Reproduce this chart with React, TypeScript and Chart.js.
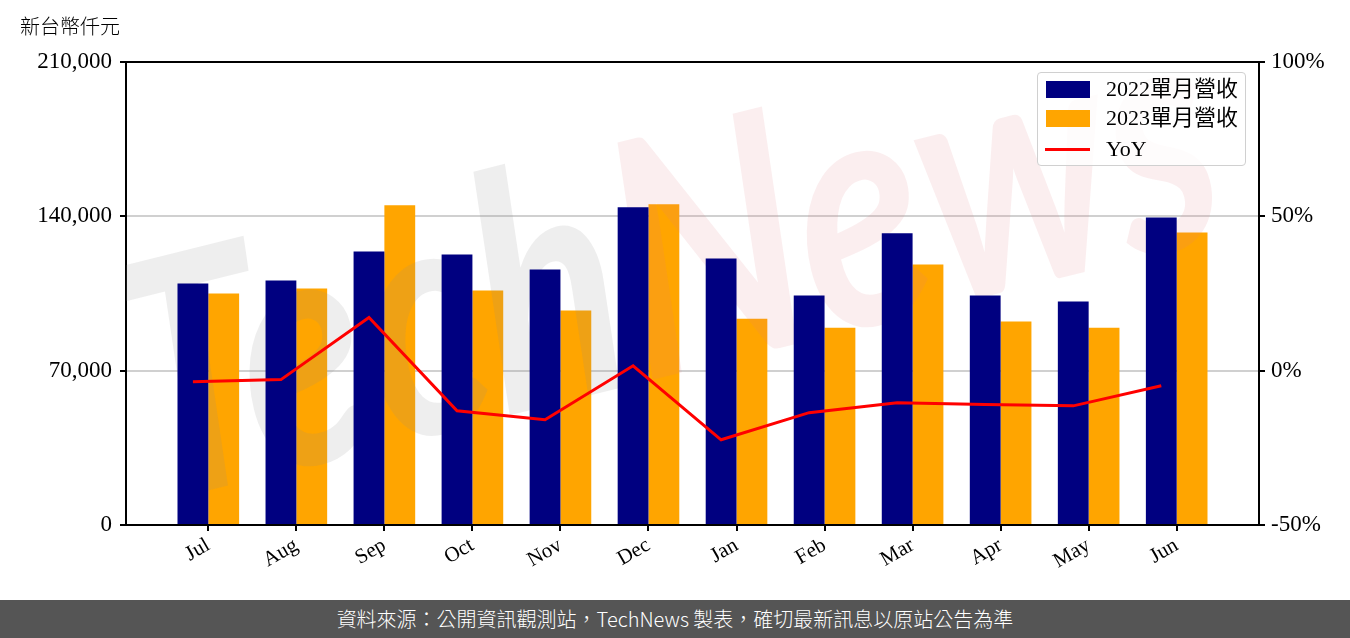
import React, { useEffect, useRef } from "react";
import { Chart, registerables } from "chart.js";

Chart.register(...registerables);

const months = ["Jul", "Aug", "Sep", "Oct", "Nov", "Dec", "Jan", "Feb", "Mar", "Apr", "May", "Jun"];
const revenue2022 = [109500, 110900, 124100, 122700, 115900, 144100, 120900, 104100, 132300, 104100, 101400, 139500];
const revenue2023 = [105000, 107300, 145000, 106400, 97300, 145500, 93600, 89500, 118200, 92300, 89500, 132700];
const yoy = [-3.6, -2.9, 17.2, -13.0, -15.9, 1.6, -22.4, -13.6, -10.4, -11.0, -11.4, -4.9];
const leftTicks = [0, 70000, 140000, 210000];
const rightTicks = [-50, 0, 50, 100];
const seriesNames = ["2022單月營收", "2023單月營收", "YoY"];

const SERIF = '"Liberation Serif", "Noto Sans CJK TC", serif';
const CJK = '"Noto Sans CJK TC", "Noto Sans", sans-serif';

const framePlugin = {
  id: "frame",
  afterDatasetDraw(chart: any, args: any) {
    if (args.index !== 1) return;
    const { ctx, chartArea } = chart;
    ctx.save();
    ctx.beginPath();
    ctx.rect(chartArea.left, chartArea.top, chartArea.right - chartArea.left, chartArea.bottom - chartArea.top);
    ctx.clip();
    ctx.translate(150, 505);
    ctx.rotate((-14 * Math.PI) / 180);
    ctx.font = 'bold italic 330px "Lato", sans-serif';
    const w1 = ctx.measureText("Tech").width;
    const w2 = ctx.measureText("News").width;
    const sx = 1120 / (w1 + w2);
    ctx.scale(sx, 1);
    ctx.textBaseline = "alphabetic";
    ctx.fillStyle = "rgba(140,140,140,0.15)";
    ctx.fillText("Tech", 0, 0);
    ctx.fillStyle = "rgba(225,120,130,0.13)";
    ctx.fillText("News", w1, 0);
    ctx.restore();
  },
  afterDraw(chart: any) {
    const { ctx, chartArea } = chart;
    ctx.save();
    ctx.strokeStyle = "#000";
    ctx.lineWidth = 2;
    ctx.beginPath();
    ctx.moveTo(chartArea.left - 1, chartArea.top);
    ctx.lineTo(chartArea.right + 1, chartArea.top);
    ctx.stroke();
    ctx.restore();
  },
};

export default function App() {
  const ref = useRef<HTMLCanvasElement | null>(null);

  useEffect(() => {
    if (!ref.current) return;
    const tickFont = { family: SERIF, size: 23 };
    const chart = new Chart(ref.current, {
      type: "bar",
      data: {
        datasets: [
          {
            label: seriesNames[0],
            data: revenue2022.map((v, i) => ({ x: i, y: v })),
            backgroundColor: "#000080",
            yAxisID: "y",
            xAxisID: "x",
            order: 1,
            categoryPercentage: 0.7,
            barPercentage: 1,
          },
          {
            label: seriesNames[1],
            data: revenue2023.map((v, i) => ({ x: i, y: v })),
            backgroundColor: "#FFA500",
            yAxisID: "y",
            xAxisID: "x",
            order: 1,
            categoryPercentage: 0.7,
            barPercentage: 1,
          },
          {
            type: "line",
            label: seriesNames[2],
            data: yoy.map((v, i) => ({ x: i - 0.175, y: v })),
            borderColor: "#FF0000",
            borderWidth: 3,
            pointRadius: 0,
            fill: false,
            tension: 0,
            yAxisID: "y1",
            xAxisID: "x",
            order: 0,
          } as any,
        ],
      },
      options: {
        responsive: false,
        animation: false,
        devicePixelRatio: 1,
        layout: { padding: { top: 62, left: 0, right: 0, bottom: 0 } },
        plugins: { legend: { display: false }, tooltip: { enabled: false } },
        scales: {
          x: {
            type: "linear",
            min: -0.935,
            max: 11.935,
            offset: false,
            afterBuildTicks: (s: any) => {
              s.ticks = months.map((_, i) => ({ value: i }));
            },
            afterFit: (s: any) => {
              s.height = 75;
            },
            ticks: {
              autoSkip: false,
              maxRotation: 30,
              minRotation: 30,
              color: "#000",
              font: { family: SERIF, size: 21 },
              padding: 2,
              callback: (v: any) => months[Math.round(v)] ?? "",
            },
            grid: { drawOnChartArea: false, tickLength: 6, color: "#000", lineWidth: 2, offset: false },
            border: { color: "#000", width: 2 },
          },
          y: {
            position: "left",
            min: 0,
            max: 210000,
            afterBuildTicks: (s: any) => {
              s.ticks = leftTicks.map((v) => ({ value: v }));
            },
            afterFit: (s: any) => {
              s.width = 126;
            },
            ticks: {
              color: "#000",
              font: tickFont,
              padding: 8,
              callback: (v: any) => Number(v).toLocaleString("en-US"),
            },
            grid: { color: "#d0d0d0", lineWidth: 2, tickColor: "#000", tickLength: 6 },
            border: { color: "#000", width: 2 },
          },
          y1: {
            position: "right",
            min: -50,
            max: 100,
            afterBuildTicks: (s: any) => {
              s.ticks = rightTicks.map((v) => ({ value: v }));
            },
            afterFit: (s: any) => {
              s.width = 91;
            },
            ticks: {
              color: "#000",
              font: tickFont,
              padding: 6,
              callback: (v: any) => (Number(v) < 0 ? "-" : "") + Math.abs(Number(v)) + "%",
            },
            grid: { drawOnChartArea: false, tickColor: "#000", tickLength: 6, lineWidth: 2 },
            border: { color: "#000", width: 2 },
          },
        },
      },
      plugins: [framePlugin],
    } as any);
    return () => chart.destroy();
  }, []);

  const patch = (top: number, color: string) => (
    <div style={{ position: "absolute", left: 8, top, width: 44, height: 17, background: color }} />
  );
  const label = (top: number, text: string) => (
    <div
      style={{
        position: "absolute",
        left: 68,
        top,
        height: 28,
        lineHeight: "28px",
        fontFamily: SERIF,
        fontSize: 22,
        color: "#000",
        whiteSpace: "nowrap",
      }}
    >
      {text}
    </div>
  );

  return (
    <div style={{ position: "fixed", left: 0, top: 0, width: 1350, height: 638, background: "#fff", overflow: "hidden" }}>
      <canvas ref={ref} width={1350} height={600} style={{ position: "absolute", left: 0, top: 0, width: 1350, height: 600 }} />
      <div
        style={{
          position: "absolute",
          left: 20,
          top: 12,
          fontFamily: CJK,
          fontSize: 20,
          fontWeight: 300,
          lineHeight: "28px",
          color: "#000",
        }}
      >
        新台幣仟元
      </div>
      <div
        style={{
          position: "absolute",
          left: 1037,
          top: 72,
          width: 207,
          height: 92,
          border: "1.5px solid #d0d0d0",
          borderRadius: 4,
          background: "rgba(255,255,255,0.8)",
        }}
      >
        {patch(8, "#000080")}
        {label(2, seriesNames[0])}
        {patch(37, "#FFA500")}
        {label(31, seriesNames[1])}
        <div style={{ position: "absolute", left: 7, top: 75, width: 45, height: 3, background: "#FF0000" }} />
        {label(62, seriesNames[2])}
      </div>
      <div
        style={{
          position: "absolute",
          left: 0,
          top: 600,
          width: 1350,
          height: 38,
          background: "#555555",
          color: "#fff",
          fontFamily: CJK,
          fontSize: 20,
          fontWeight: 300,
          lineHeight: "38px",
          textAlign: "center",
          whiteSpace: "nowrap",
        }}
      >
        資料來源：公開資訊觀測站，TechNews 製表，確切最新訊息以原站公告為準
      </div>
    </div>
  );
}
